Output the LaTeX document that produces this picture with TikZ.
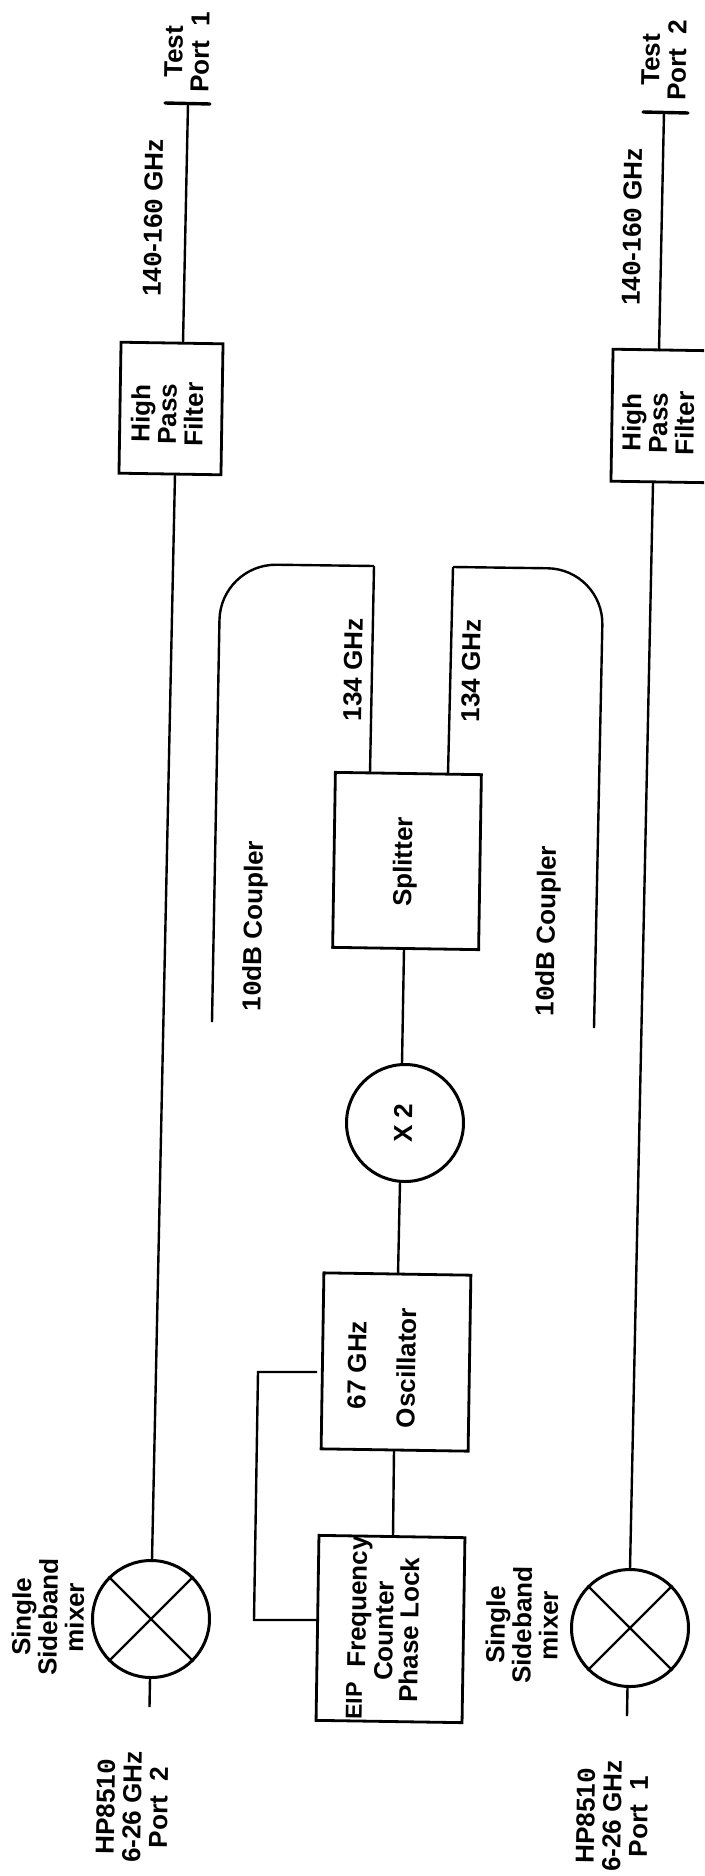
\documentclass[tikz,border=0pt]{standalone}
\usepackage{fontspec}
\setmainfont{Liberation Sans}[BoldFont={Liberation Sans Bold}]
\newfontfamily\zfont{Liberation Mono Bold}
\newcommand{\zz}{{\zfont 0}}
\tikzset{
  lab/.style={rotate=89.1,inner sep=0pt,align=center,font=\bfseries\fontsize{26}{26.5}\selectfont},
  smalllab/.style={rotate=89.1,inner sep=0pt,font=\bfseries\fontsize{23}{23}\selectfont},
  blk/.style={draw=black,line width=2.8pt,fill=none,rectangle,rotate=-0.9,inner sep=0pt},
  rnd/.style={draw=black,line width=3pt,circle,inner sep=0pt,minimum size=117pt},
  wire/.style={draw=black,line width=2.4pt},
  thick tick/.style={draw=black,line width=3.4pt,line cap=round}
}
\begin{document}
\begin{tikzpicture}[x=1pt,y=-1pt]
\useasboundingbox[fill=white] (0,0) rectangle (704,1876);
\clip (0,0) rectangle (704,1876);
% blocks
\node[blk,minimum width=102pt,minimum height=131pt] (hpfa) at (171,408.5) {};
\node[blk,minimum width=102pt,minimum height=132pt] (hpfb) at (663,416) {};
\node[blk,minimum width=146pt,minimum height=175pt] (split) at (407,861) {};
\node[blk,minimum width=147pt,minimum height=176pt] (osc) at (396,1362) {};
\node[blk,minimum width=146pt,minimum height=185pt] (fc) at (390.5,1629) {};
\node[rnd] (mixa) at (151,1619) {};
\node[rnd] (mixb) at (630,1628) {};
\node[rnd] (dbl) at (405,1123) {};
% named ports
\coordinate (ta) at (188,104);
\coordinate (tal) at (165,103);
\coordinate (tar) at (210,104);
\coordinate (tb) at (664,112);
\coordinate (tbl) at (643,112);
\coordinate (tbr) at (688,113);
\coordinate (hatop) at (183,343);
\coordinate (habot) at (175,474);
\coordinate (hbtop) at (659,351);
\coordinate (hbbot) at (653,483);
\coordinate (mat) at (152,1560);
\coordinate (mbt) at (630,1569);
\coordinate (mas) at (150,1678);
\coordinate (mbs) at (627.5,1687);
\coordinate (mae) at (149.5,1707);
\coordinate (mbe) at (627,1716);
\coordinate (cla) at (212,1022);
\coordinate (clb) at (220.5,564);
\coordinate (clc) at (374,566);
\coordinate (sl) at (370,773);
\coordinate (crc) at (453,567);
\coordinate (crb) at (603.5,569);
\coordinate (cra) at (594,1028);
\coordinate (sr) at (448,774);
\coordinate (sb) at (404,949);
\coordinate (dt) at (402,1064);
\coordinate (db) at (400,1182);
\coordinate (ot) at (398,1275);
\coordinate (ob) at (394,1450);
\coordinate (ft) at (393,1537);
\coordinate (fbo) at (317,1372);
\coordinate (fbc) at (258,1372);
\coordinate (fbd) at (254,1620);
\coordinate (fbe) at (317.5,1620);
% connectors
\draw[thick tick] (tal) -- (tar);
\draw[thick tick] (tbl) -- (tbr);
\draw[wire] (ta) -- (hatop);
\draw[wire] (tb) -- (hbtop);
\draw[wire] (habot) -- (mat);
\draw[wire] (hbbot) -- (mbt);
\draw[wire] (mas) -- (mae);
\draw[wire] (mbs) -- (mbe);
\draw[wire] (mixa.45) -- (mixa.225);
\draw[wire] (mixa.135) -- (mixa.315);
\draw[wire] (mixb.45) -- (mixb.225);
\draw[wire] (mixb.135) -- (mixb.315);
\draw[wire,rounded corners=56pt] (cla) -- (clb) -- (clc);
\draw[wire] (clc) -- (sl);
\draw[wire,rounded corners=56pt] (cra) -- (crb) -- (crc);
\draw[wire] (crc) -- (sr);
\draw[wire] (sb) -- (dt);
\draw[wire] (db) -- (ot);
\draw[wire] (ob) -- (ft);
\draw[wire] (fbo) -- (fbc) -- (fbd) -- (fbe);
% labels
\node[lab] (ltpa) at (187,52) {Test\\Port\ \ 1};
\node[lab] (ltpb) at (664,60) {Test\\Port\ \ 2};
\node[lab] (lfa) at (153,218) {14\zz-16\zz{} GHz};
\node[lab] (lfb) at (632,227) {14\zz-16\zz{} GHz};
\node[lab] (lha) at (167,414) {High\\Pass\\Filter};
\node[lab] (lhb) at (658,423) {High\\Pass\\Filter};
\node[lab] (lca) at (255,926) {1\zz dB Coupler};
\node[lab] (lcb) at (548,931) {1\zz dB Coupler};
\node[lab] (l134a) at (353,670) {134 GHz};
\node[lab] (l134b) at (471,671) {134 GHz};
\node[lab] (lsp) at (405,862) {Splitter};
\node[lab] (lx) at (403,1123) {X 2};
\node[lab] (l67) at (357,1365) {67 GHz};
\node[lab] (los) at (406,1368) {Oscillator};
\node[lab] (lfr) at (360,1602) {Frequency};
\node[lab] (lcn) at (384,1631) {Counter};
\node[lab] (lpl) at (409,1630) {Phase Lock};
\node[smalllab] (leip) at (354,1701) {EIP};
\node[lab] (lma) at (48,1617) {Single\\Sideband\\mixer};
\node[lab] (lmb) at (522,1625) {Single\\Sideband\\mixer};
\node[lab] (lpa) at (132,1807) {HP851\zz\\6-26 GHz\\Port\ \ 2};
\node[lab] (lpb) at (612,1816) {HP851\zz\\6-26 GHz\\Port\ \ 1};
\end{tikzpicture}
\end{document}
